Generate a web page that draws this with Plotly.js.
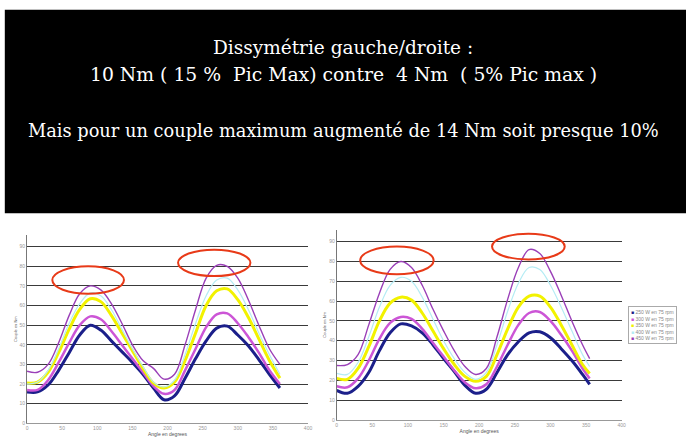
<!DOCTYPE html>
<html><head><meta charset="utf-8">
<script src="https://cdn.plot.ly/plotly-3.0.1.min.js"></script>
<style>html,body{margin:0;padding:0;background:#fff}#c{width:686px;height:446px}</style>
</head><body><div id="c"></div>
<script>
// Angles (degrees)
const angleL = [0,15,30,45,60,75,90,105,120,135,150,165,180,195,210,225,240,255,270,285,300,315,330,345,360];
const angleR = [0,15,30,45,60,75,90,105,120,135,150,165,180,195,210,225,240,255,270,285,300,315,330,345,355];
const seriesNames = ["250 W en 75 rpm","300 W en 75 rpm","350 W en 75 rpm","400 W en 75 rpm","450 W en 75 rpm"];
// Left chart (couple en Nm)
const blueL   = [16,16,19.5,27,36,45,50,47.5,42,36.5,31,25,18,12,14,23,33,42,48.5,49.5,45,39.5,32.5,25,18];
const pinkL   = [17,17,22,31,41,50,54.5,53,47,40,33,26,19,15,17,27,38,49,55.5,56,51,44,36,27,20];
const yellowL = [20.5,21,26,36,48,58,63.5,62,55,46,37,28,20.5,18,21,32,46,60,67.5,68.5,63,54,43,32,23];
const cyanL   = [20,21,27,38,51,61,66.5,65,58,48,38,29,21,18.5,22,35,51,65,73,74,68,58,46,35,25];
const purpleL = [26.5,26,30,41,55,66,70,68,61,51,40,32,28,22.5,25,40,58,74,80.5,80,74,63,50,38,30];
// Right chart
const blueR   = [15,13.5,17,24,35,44,48.5,47.5,44,38,31,24.5,17.5,13.5,15.5,24,33,39.5,44,44.5,41.5,36,30,23,18];
const pinkR   = [17,16.5,21,30,41,49,52,51,46,39,32,25,19,16,18,27,38,48,54,54.5,50,43,35,26,21];
const yellowR = [21,20.5,26,37,50,59,62,60.5,54,45,36,28,22,19.5,22,33,46,57,62.5,62.5,57,48,38,28,23.5];
const cyanR   = [23.5,23,29,42,57,68,72,70,62,51,40,31,24,20.5,24,38,55,69,77,76,68,57,45,33,27];
const purpleR = [27.5,28,33,48,64,76,80,77,68,56,45,35,27,23,26,42,61,77,86,84,75,63,50,38,31];
// Highlighted peaks (x0,x1,y0,y1 in data units)
const ellipsesL = [[36,138,66,80],[215,318,75,88.5]];
const ellipsesR = [[33,136,73.5,87.5],[218,320,81,94]];
const titleLines = ["Dissymétrie gauche/droite :","10 Nm ( 15 %  Pic Max) contre  4 Nm  ( 5% Pic max )","Mais pour un couple maximum augmenté de 14 Nm soit presque 10%"];

const colors = ["#1b1f8a","#cc55d6","#f2f200","#b4ecf4","#9a3fb8"];
const widths = [3,2.5,3,1.2,1.4];
const dataL = [blueL,pinkL,yellowL,cyanL,purpleL];
const dataR = [blueR,pinkR,yellowR,cyanR,purpleR];
const traces = [];
dataL.forEach((d,i)=>traces.push({x:angleL,y:d,type:'scatter',mode:'lines',line:{color:colors[i],width:widths[i],shape:'spline'},xaxis:'x',yaxis:'y',showlegend:false,name:seriesNames[i]}));
dataR.forEach((d,i)=>traces.push({x:angleR,y:d,type:'scatter',mode:'lines',line:{color:colors[i],width:widths[i],shape:'spline'},xaxis:'x2',yaxis:'y2',showlegend:false,name:seriesNames[i]}));

const axX = {range:[0,400],tickvals:[0,50,100,150,200,250,300,350,400],showgrid:false,showline:true,linecolor:'#999',linewidth:1,zeroline:false,ticks:'',tickfont:{size:5,color:'#999',family:'Arial'},title:{text:'Angle en degrees',font:{size:5,color:'#555',family:'Arial'},standoff:2}};
const axY = {range:[0,96],tickvals:[0,10,20,30,40,50,60,70,80,90],showgrid:true,gridcolor:'#3a3a3a',gridwidth:1,showline:true,linecolor:'#777',linewidth:1,zeroline:false,ticks:'',tickfont:{size:5,color:'#999',family:'Arial'},title:{text:'Couple en Nm',font:{size:4,color:'#555',family:'Arial'},standoff:2}};

const shapes = [{type:'rect',xref:'paper',yref:'paper',x0:0.007,x1:1,y0:0.522,y1:0.978,fillcolor:'#000',line:{width:0},layer:'below'}];
ellipsesL.forEach(e=>shapes.push({type:'circle',xref:'x',yref:'y',x0:e[0],x1:e[1],y0:e[2],y1:e[3],line:{color:'#e83a18',width:2}}));
ellipsesR.forEach(e=>shapes.push({type:'circle',xref:'x2',yref:'y2',x0:e[0],x1:e[1],y0:e[2],y1:e[3],line:{color:'#e83a18',width:2}}));

const annYs = [0.893,0.832,0.708];
const annSizes = [18.5,18.8,17.8];
const annotations = titleLines.map((t,i)=>({text:t,xref:'paper',yref:'paper',x:0.5,y:annYs[i],showarrow:false,font:{family:'DejaVu Serif',size:annSizes[i],color:'#fff'},xanchor:'center',yanchor:'middle'}));
// Legend box for the right chart
const legendText = seriesNames.map((n,i)=>'<span style="color:'+colors[i]+'">■</span> '+n).join('<br>');
annotations.push({text:legendText,xref:'paper',yref:'paper',x:0.9155,y:0.314,xanchor:'left',yanchor:'top',align:'left',showarrow:false,font:{size:5,color:'#888',family:'Arial'},bgcolor:'#fff',bordercolor:'#aaa',borderwidth:1,borderpad:2});

const layout = {
  width:686,height:446,margin:{l:0,r:0,t:0,b:0},
  paper_bgcolor:'#fff',plot_bgcolor:'#fff',
  xaxis:Object.assign({},axX,{domain:[0.0394,0.449],anchor:'y'}),
  yaxis:Object.assign({},axY,{domain:[0.0509,0.4733],anchor:'x'}),
  xaxis2:Object.assign({},axX,{domain:[0.4908,0.9063],anchor:'y2'}),
  yaxis2:Object.assign({},axY,{domain:[0.0583,0.4848],anchor:'x2'}),
  showlegend:false,
  shapes:shapes,annotations:annotations
};
Plotly.newPlot('c',traces,layout,{staticPlot:true,displayModeBar:false});
</script></body></html>
